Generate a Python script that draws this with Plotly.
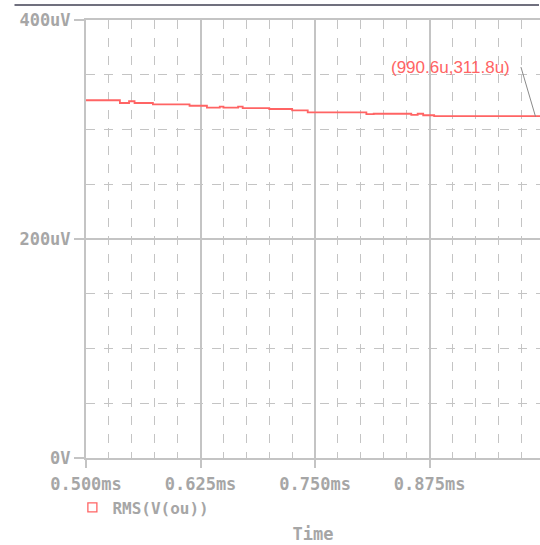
import plotly.graph_objects as go

# --- data (time in ms, RMS voltage in uV) ---
time_ms = [0.500, 0.537, 0.547, 0.553, 0.573, 0.613, 0.632, 0.646, 0.650, 0.666, 0.671,
           0.700, 0.725, 0.742, 0.806, 0.814, 0.855, 0.862, 0.868, 0.880, 1.000]
rms_uv = [326.7, 324.2, 325.8, 324.2, 323.0, 321.7, 319.9, 320.8, 319.9, 320.9, 319.6,
          318.7, 317.5, 315.7, 314.0, 314.4, 313.3, 314.4, 313.0, 312.2, 312.0]
series_name = "RMS(V(ou))"
x_ticks = [0.500, 0.625, 0.750, 0.875]
x_tick_labels = ["0.500ms", "0.625ms", "0.750ms", "0.875ms"]
y_ticks = [0, 200, 400]
y_tick_labels = ["0V", "200uV", "400uV"]
cursor_t = 0.9906
cursor_v = 311.8
cursor_label = "(990.6u,311.8u)"

RED = "#ff6464"
GRAY = "#a6a6a6"
GRID = "#c4c4c4"
FONT = "DejaVu Sans Mono"

fig = go.Figure()
fig.add_trace(go.Scatter(x=time_ms, y=rms_uv, mode="lines", line=dict(color=RED, width=1.8, shape="hv"),
                         showlegend=False, hoverinfo="skip"))
fig.add_trace(go.Scatter(x=[None], y=[None], mode="markers", name=series_name,
                         marker=dict(symbol="square-open", size=9, color=RED, line=dict(width=1.3, color=RED)),
                         showlegend=True))

# cursor connector + label
fig.add_annotation(x=cursor_t, y=cursor_v, text="", showarrow=True, arrowhead=0, arrowwidth=1,
                   arrowcolor="#8a8a8a", ax=-15, ay=-51)
fig.add_annotation(x=cursor_t, y=cursor_v, text=cursor_label, showarrow=False,
                   xshift=-85, yshift=49, font=dict(family="Liberation Sans", size=17, color=RED))

# top window border line (drawn as a head-less arrow above the plot area)
fig.add_annotation(xref="paper", yref="paper", x=1.0, y=1.034, text="", showarrow=True,
                   arrowhead=0, arrowwidth=2, arrowcolor="#70707e", ax=-527, ay=0,
                   standoff=0, startstandoff=0)

fig.update_xaxes(range=[0.5, 0.9955], tickvals=x_ticks, ticktext=x_tick_labels, automargin=False,
                 showline=True, linecolor=GRID, linewidth=2, mirror=True,
                 ticks="outside", ticklen=8, tickcolor=GRID, tickwidth=2, ticklabelstandoff=2,
                 showgrid=True, gridcolor=GRID, gridwidth=1.5, zeroline=False,
                 minor=dict(dtick=0.025, tick0=0.5, showgrid=True, gridcolor=GRID, griddash="dash", gridwidth=1, ticks=""),
                 tickfont=dict(family=FONT, size=17, color=GRAY, weight="bold"),
                 title=dict(text="Time", font=dict(family=FONT, size=17, color=GRAY, weight="bold"), standoff=35))
fig.update_yaxes(range=[0, 400], tickvals=y_ticks, ticktext=y_tick_labels, automargin=False,
                 showline=True, linecolor=GRID, linewidth=2,
                 ticks="outside", ticklen=10, tickcolor=GRID, tickwidth=2,
                 showgrid=True, gridcolor=GRID, gridwidth=1.5, zeroline=False,
                 minor=dict(dtick=50, tick0=0, showgrid=True, gridcolor=GRID, griddash="dash", gridwidth=1, ticks=""),
                 tickfont=dict(family=FONT, size=17, color=GRAY, weight="bold"))

fig.update_layout(width=540, height=545, margin=dict(l=86, r=0, t=20, b=87, autoexpand=False),
                  plot_bgcolor="white", paper_bgcolor="white",
                  legend=dict(x=-0.03, y=-0.074, xanchor="left", yanchor="top", bgcolor="rgba(0,0,0,0)",
                              font=dict(family=FONT, size=16, color=GRAY, weight="bold"), itemwidth=30))

fig.write_html("out.html", config={"displayModeBar": False},
               post_script="document.body.style.margin='0';document.body.style.overflow='hidden';")
